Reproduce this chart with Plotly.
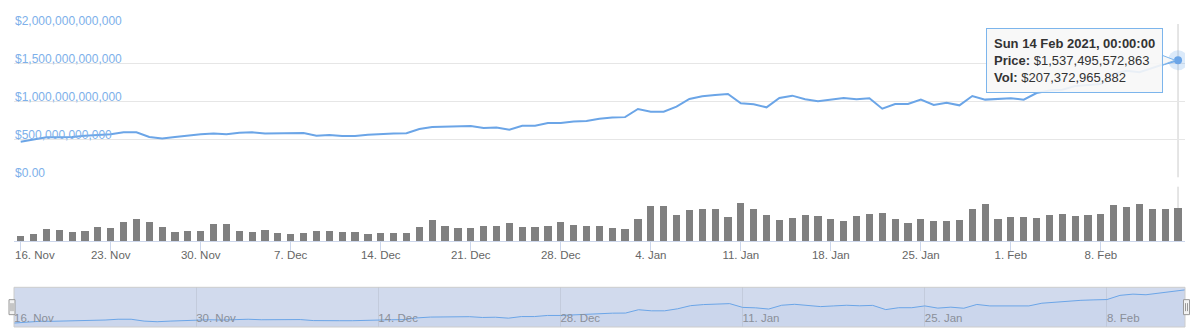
import pandas as pd
import plotly.graph_objects as go

# ---------------- data ----------------
START_DATE = "2020-11-16"
N_DAYS = 91
dates = pd.date_range(START_DATE, periods=N_DAYS, freq="D")

# market cap (trillions USD), daily 16 Nov 2020 .. 14 Feb 2021
price_t = [
    0.467, 0.499, 0.525, 0.525, 0.530, 0.547, 0.560, 0.565, 0.590, 0.590,
    0.530, 0.510, 0.530, 0.550, 0.565, 0.574, 0.565, 0.585, 0.590, 0.574,
    0.578, 0.580, 0.580, 0.547, 0.555, 0.543, 0.543, 0.560, 0.570, 0.574,
    0.578, 0.634, 0.660, 0.664, 0.668, 0.673, 0.647, 0.655, 0.625, 0.677,
    0.677, 0.712, 0.712, 0.734, 0.738, 0.768, 0.786, 0.790, 0.897, 0.862,
    0.862, 0.927, 1.028, 1.063, 1.081, 1.094, 0.972, 0.958, 0.919, 1.041,
    1.072, 1.024, 0.998, 1.020, 1.041, 1.024, 1.037, 0.901, 0.962, 0.962,
    1.020, 0.949, 0.980, 0.945, 1.067, 1.020, 1.024, 1.037, 1.020, 1.107,
    1.140, 1.150, 1.200, 1.215, 1.225, 1.360, 1.400, 1.380, 1.440, 1.490,
    1.537495572863,
]
# volume (billions USD)
volume_b = [
    36.6, 48.8, 79, 73, 61, 67, 91.5, 85, 122, 140,
    122, 91.5, 61, 67, 67, 106, 106, 67, 61, 73,
    55, 49, 55, 67, 67, 61, 61, 49, 55, 55,
    55, 91.5, 134, 97.6, 85, 85, 97.6, 97.6, 116, 91.5,
    91.5, 97.6, 122, 104, 97.6, 97.6, 85, 79, 140, 220,
    220, 165, 195, 201, 201, 152, 238, 201, 165, 134,
    146, 165, 159, 140, 128, 159, 171, 177, 140, 116,
    140, 128, 128, 134, 201, 232, 140, 152, 152, 146,
    165, 171, 159, 165, 171, 226, 213, 232, 201, 201,
    207.372965882,
]
price = [v * 1e12 for v in price_t]
volume = [v * 1e9 for v in volume_b]

price_tickvals = [0, 5e11, 1e12, 1.5e12, 2e12]
price_ticktext = ["$0.00", "$500,000,000,000", "$1,000,000,000,000",
                  "$1,500,000,000,000", "$2,000,000,000,000"]

# weekly x-axis ticks (Mondays) and fortnightly navigator ticks
week_ticks = pd.date_range(START_DATE, "2021-02-08", freq="7D")
week_labels = [d.strftime("%-d. %b") for d in week_ticks]
nav_ticks = pd.date_range(START_DATE, "2021-02-08", freq="14D")
nav_labels = [d.strftime("%-d. %b") for d in nav_ticks]

HOVER_INDEX = N_DAYS - 1

# ---------------- style ----------------
FONT = "Liberation Sans, Arial, Helvetica, sans-serif"
LINE_COLOR = "#6ba5e7"
LABEL_BLUE = "#7db0ea"
TICK_FONT = dict(family=FONT, size=11.5, color="#666666")

# first label is justified to stay inside the chart (as Highcharts does):
# it is drawn left-aligned next to its tick instead of centred on it
week_text = [""] + list(week_labels[1:])

x_range = [dates[0] - pd.Timedelta(hours=12.5), dates[-1] + pd.Timedelta(hours=13)]

fig = go.Figure()

# price line
fig.add_trace(go.Scatter(x=dates, y=price, mode="lines",
                         line=dict(color=LINE_COLOR, width=2),
                         xaxis="x", yaxis="y", hoverinfo="skip"))
# hover halo + point
hx = [dates[HOVER_INDEX]]
hy = [price[HOVER_INDEX]]
fig.add_trace(go.Scatter(x=hx, y=hy, mode="markers",
                         marker=dict(size=20, color="rgba(124,181,236,0.28)", line=dict(width=0)),
                         xaxis="x", yaxis="y", hoverinfo="skip"))
fig.add_trace(go.Scatter(x=hx, y=hy, mode="markers",
                         marker=dict(size=8, color=LINE_COLOR, line=dict(width=0)),
                         xaxis="x", yaxis="y", hoverinfo="skip"))

# volume bars
DAY_MS = 86400000
fig.add_trace(go.Bar(x=dates, y=volume, width=0.56 * DAY_MS,
                     marker=dict(color="#808080", line=dict(width=0)),
                     xaxis="x2", yaxis="y2", hoverinfo="skip"))

# navigator series
fig.add_trace(go.Scatter(x=dates, y=price, mode="lines",
                         line=dict(color=LINE_COLOR, width=1),
                         fill="tozeroy", fillcolor="rgba(107,165,231,0.05)",
                         xaxis="x3", yaxis="y3", hoverinfo="skip"))

shapes = []
# navigator mask
shapes.append(dict(type="rect", xref="x3 domain", yref="y3 domain", x0=0, x1=1, y0=0, y1=1,
                   fillcolor="rgba(102,133,194,0.3)", line=dict(width=0), layer="below"))
# navigator outline
shapes.append(dict(type="rect", xref="x3 domain", yref="y3 domain", x0=0, x1=1, y0=0, y1=1,
                   line=dict(color="#cccccc", width=1), fillcolor="rgba(0,0,0,0)", layer="above"))
# navigator handles
for anchor, (a, b) in ((0, (-5, 1)), (1, (-1.5, 4.5))):
    shapes.append(dict(type="rect", xref="x3 domain", yref="y3 domain",
                       xsizemode="pixel", xanchor=anchor, x0=a, x1=b,
                       ysizemode="pixel", yanchor=0.5, y0=-7.5, y1=7.5,
                       fillcolor="#f2f2f2", line=dict(color="#999999", width=1), layer="above"))
    mid = (a + b) / 2
    for dx in (-1, 1):
        shapes.append(dict(type="line", xref="x3 domain", yref="y3 domain",
                           xsizemode="pixel", xanchor=anchor, x0=mid + dx, x1=mid + dx,
                           ysizemode="pixel", yanchor=0.5, y0=-4, y1=4,
                           line=dict(color="#999999", width=1), layer="above"))
# crosshair
shapes.append(dict(type="line", xref="x", yref="y domain", x0=dates[HOVER_INDEX], x1=dates[HOVER_INDEX],
                   y0=0, y1=1, line=dict(color="#cccccc", width=1), layer="below"))
shapes.append(dict(type="line", xref="x2", yref="y2 domain", x0=dates[HOVER_INDEX], x1=dates[HOVER_INDEX],
                   y0=0, y1=1, line=dict(color="#cccccc", width=1), layer="below"))
# tooltip callout pointer
shapes.append(dict(type="path", xref="x", yref="y", xsizemode="pixel", ysizemode="pixel",
                   xanchor=dates[HOVER_INDEX], yanchor=price[HOVER_INDEX],
                   path="M -16,5 L -3,0 L -16,-5 Z",
                   fillcolor="rgba(247,247,247,0.9)", line=dict(color="#7cb5ec", width=1), layer="above"))

hd = dates[HOVER_INDEX]
tooltip = ("<b>" + hd.strftime("%a %d %b %Y, %H:%M:%S") + "</b><br>"
           + "<b>Price:</b> $" + f"{price[HOVER_INDEX]:,.0f}" + "<br>"
           + "<b>Vol:</b> $" + f"{volume[HOVER_INDEX]:,.0f}")

fig.add_annotation(x=hd, y=price[HOVER_INDEX], xref="x", yref="y",
                   text=tooltip, showarrow=False, align="left",
                   xanchor="right", yanchor="middle", xshift=-15, yshift=0,
                   bgcolor="rgba(247,247,247,0.9)", bordercolor="#7cb5ec", borderwidth=1,
                   borderpad=7, font=dict(family=FONT, size=13, color="#333333"))

# justified first x-axis label
fig.add_annotation(x=week_ticks[0], y=0, xref="x2", yref="y2 domain",
                   text=week_labels[0], showarrow=False,
                   xanchor="left", yanchor="top", xshift=-7.5, yshift=-6,
                   font=TICK_FONT)

PRICE_TOP = 2e12 * (1 + 1 / 152.3)

fig.update_layout(
    width=1200, height=336,
    margin=dict(l=14, r=15, t=24, b=9, autoexpand=False),
    paper_bgcolor="white", plot_bgcolor="white",
    showlegend=False, bargap=0,
    font=dict(family=FONT, size=12, color="#666666"),
    xaxis=dict(domain=[0, 1], anchor="y", range=x_range, type="date", automargin=False,
               showgrid=False, showticklabels=False, ticks="", showline=False, zeroline=False),
    yaxis=dict(domain=[0.4941, 1], anchor="x", range=[0, PRICE_TOP], automargin=False,
               tickvals=price_tickvals, ticktext=price_ticktext,
               ticklabelposition="inside top", ticks="", ticklabeloverflow="allow",
               ticklabelshift=4, ticklabelstandoff=-2,
               tickfont=dict(family=FONT, size=12, color=LABEL_BLUE),
               showgrid=True, gridcolor="#e6e6e6", gridwidth=1, zeroline=False, showline=False),
    xaxis2=dict(domain=[0, 1], anchor="y2", range=x_range, type="date", matches="x",
                automargin=False,
                tickvals=list(week_ticks), ticktext=week_text,
                ticks="outside", ticklen=9, tickcolor="#ccd6eb", tickwidth=1,
                ticklabelstandoff=-6, ticklabeloverflow="allow",
                showline=True, linecolor="#ccd6eb", linewidth=1,
                tickfont=TICK_FONT,
                showgrid=False, zeroline=False),
    yaxis2=dict(domain=[0.2828, 0.4630], anchor="x2", range=[0, 333e9], automargin=False,
                showgrid=False, showticklabels=False, ticks="", zeroline=False, showline=False),
    xaxis3=dict(domain=[0, 1], anchor="y3", range=[dates[0], dates[-1]], type="date",
                automargin=False,
                tickvals=list(nav_ticks), ticktext=nav_labels,
                ticklabelposition="inside right", ticks="", ticklabelstandoff=-3,
                ticklabeloverflow="allow",
                tickfont=dict(family=FONT, size=11.5, color="#8a8f99"),
                showgrid=True, gridcolor="#c3cbdc", gridwidth=1, zeroline=False, showline=False),
    yaxis3=dict(domain=[0, 0.1310], anchor="x3", range=[0.34e12, 1.62e12], automargin=False,
                showgrid=False, showticklabels=False, ticks="", zeroline=False, showline=False),
    shapes=shapes,
)

fig.write_html("out.html", config={"displayModeBar": False},
               post_script="document.body.style.margin='0';")
